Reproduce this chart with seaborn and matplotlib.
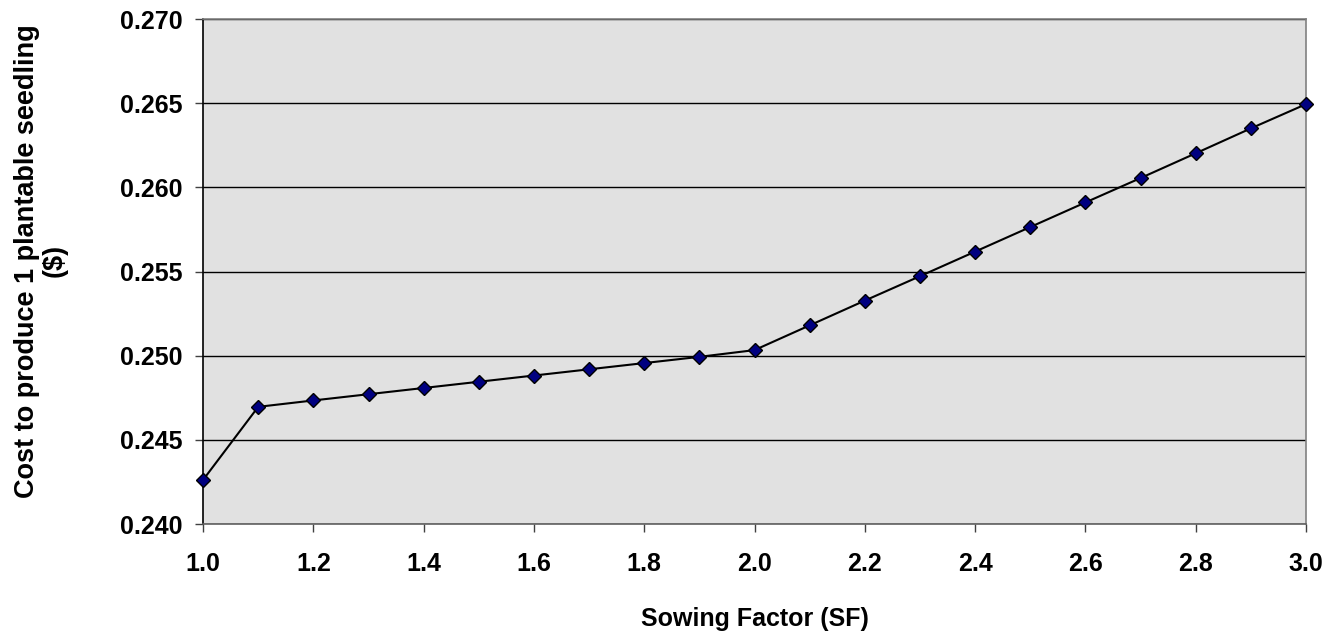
import seaborn as sns
import pandas as pd
import matplotlib.pyplot as plt

sowing_factor = [1.0, 1.1, 1.2, 1.3, 1.4, 1.5, 1.6, 1.7, 1.8, 1.9, 2.0,
                 2.1, 2.2, 2.3, 2.4, 2.5, 2.6, 2.7, 2.8, 2.9, 3.0]
cost = [0.24262, 0.24696, 0.24734, 0.24771, 0.24808, 0.24845, 0.24882,
        0.24919, 0.24956, 0.24993, 0.25033,
        0.25180, 0.25327, 0.25472, 0.25618, 0.25764, 0.25910, 0.26055,
        0.26202, 0.26350, 0.26494]
y_ticks = [0.240, 0.245, 0.250, 0.255, 0.260, 0.265, 0.270]
x_ticks = [1.0, 1.2, 1.4, 1.6, 1.8, 2.0, 2.2, 2.4, 2.6, 2.8, 3.0]


def main():
    df = pd.DataFrame({'SF': sowing_factor, 'Cost': cost})

    sns.set_style('white')
    plt.rcParams['font.family'] = ['Liberation Sans', 'DejaVu Sans']
    plt.rcParams['font.weight'] = 'bold'
    plt.rcParams['text.color'] = 'black'
    plt.rcParams['axes.labelcolor'] = 'black'
    plt.rcParams['xtick.color'] = 'black'
    plt.rcParams['ytick.color'] = 'black'

    fig = plt.figure(figsize=(13.36, 6.42), dpi=100)
    ax = fig.add_axes([0.152, 0.1838, 0.8255, 0.7866])
    ax.set_facecolor('#e1e1e1')

    sns.lineplot(x='SF', y='Cost', data=df, ax=ax, color='black', lw=1.5,
                 marker='D', markersize=7.5, markerfacecolor='#000080',
                 markeredgecolor='black', markeredgewidth=1.0, zorder=3,
                 clip_on=False)

    ax.set_xlim(1.0, 3.0)
    ax.set_ylim(0.240, 0.270)
    ax.set_xticks(x_ticks)
    ax.set_yticks(y_ticks)
    ax.set_xticklabels([f'{v:.1f}' for v in x_ticks], fontsize=18, fontweight='bold')
    ax.set_yticklabels([f'{v:.3f}' for v in y_ticks], fontsize=18, fontweight='bold')
    ax.tick_params(axis='both', direction='out', length=5.5, width=1,
                   color='#404040', labelcolor='black', bottom=True, left=True)
    ax.tick_params(axis='x', pad=15)
    ax.tick_params(axis='y', pad=9)

    ax.yaxis.grid(True, color='black', lw=1)
    ax.xaxis.grid(False)
    ax.set_axisbelow(True)

    for side in ['top', 'right']:
        ax.spines[side].set_color('#808080')
        ax.spines[side].set_linewidth(1.2)
    ax.spines['bottom'].set_color('#606060')
    ax.spines['bottom'].set_linewidth(1.2)
    ax.spines['left'].set_color('black')
    ax.spines['left'].set_linewidth(1.2)

    ax.set_xlabel('Sowing Factor (SF)', fontsize=18, fontweight='bold', labelpad=22)
    ax.set_ylabel('Cost to produce 1 plantable seedling\n($)', fontsize=19.5,
                  fontweight='bold', linespacing=1.1)
    ax.yaxis.set_label_coords(-0.1224, 0.521)

    fig.savefig('out.png', dpi=100)


main()
